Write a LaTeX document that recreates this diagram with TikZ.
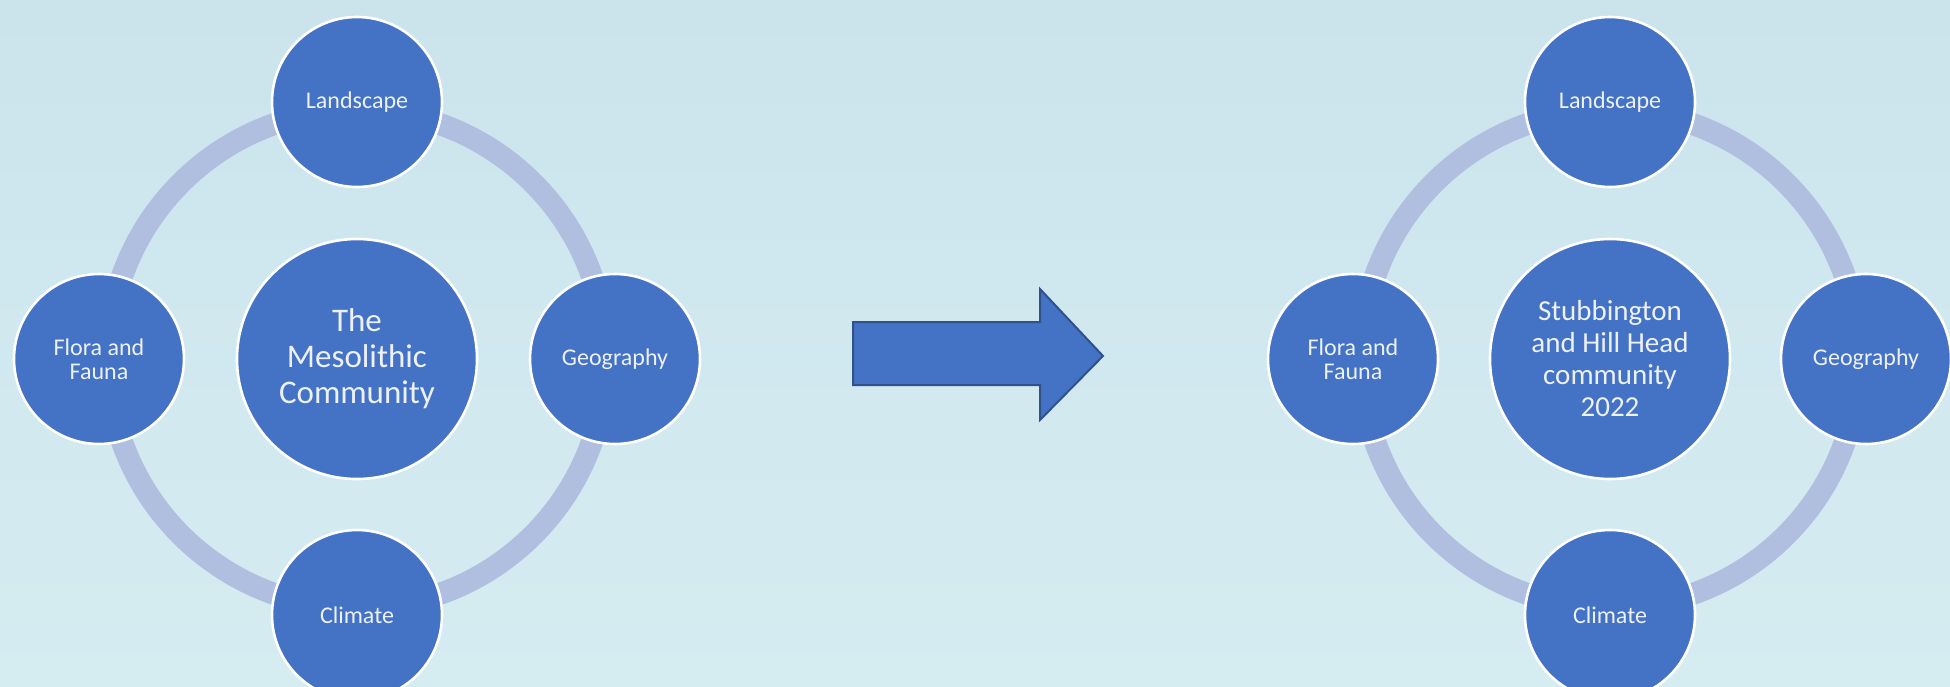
\documentclass[tikz,border=0pt]{standalone}
\usepackage{fontspec}
\setmainfont{Carlito}
\begin{document}
\begin{tikzpicture}[x=0.5pt,y=-0.5pt,
  ringline/.style={draw=ringc,line width=11pt},
  small/.style={circle,fill=blue1,draw=white,line width=1.3pt,minimum size=85pt,inner sep=0pt,
     text=txt,align=center,font=\fontsize{12pt}{12pt}\selectfont},
  big/.style={circle,fill=blue1,draw=white,line width=1.3pt,minimum size=120pt,inner sep=0pt,
     text=txt,align=center},
  arrowshape/.style={fill=blue1,draw=blue2,line width=1pt,line join=miter}]
\definecolor{bgtop}{RGB}{203,228,236}
\definecolor{bgbot}{RGB}{213,236,241}
\definecolor{blue1}{RGB}{68,114,196}
\definecolor{blue2}{RGB}{47,82,143}
\definecolor{ringc}{RGB}{176,190,223}
\definecolor{txt}{RGB}{236,241,250}
\useasboundingbox (0,0) rectangle (1950,686);
\shade[top color=bgtop,bottom color=bgbot] (0,0) rectangle (1950,686);
% left diagram
\coordinate (LC) at (357,359);
\draw[ringline] (LC) circle (124.5pt);
\node[big,font=\fontsize{16.5pt}{18pt}\selectfont] (Lmid) at (LC) {The\\Mesolithic\\Community};
\node[small] (Ltop) at (357,102) {Landscape};
\node[small] (Lleft) at (99,359) {Flora and\\Fauna};
\node[small] (Lright) at (615,359) {Geography};
\node[small] (Lbot) at (357,615) {Climate};
% arrow
\fill[arrowshape] (853,322) -- (1040,322) -- (1040,289) -- (1103,356) -- (1040,420) -- (1040,385) -- (853,385) -- cycle;
% right diagram
\coordinate (RC) at (1610,359);
\draw[ringline] (RC) circle (124.5pt);
\node[big,font=\fontsize{14.5pt}{16pt}\selectfont] (Rmid) at (RC) {Stubbington\\and Hill Head\\community\\2022};
\node[small] (Rtop) at (1610,102) {Landscape};
\node[small] (Rleft) at (1353,359) {Flora and\\Fauna};
\node[small] (Rright) at (1866,359) {Geography};
\node[small] (Rbot) at (1610,615) {Climate};
\end{tikzpicture}
\end{document}
